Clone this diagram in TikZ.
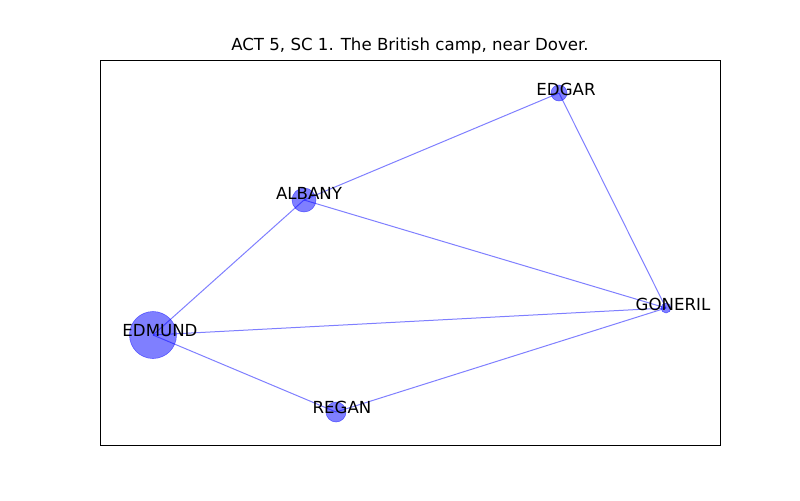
\documentclass[tikz,border=0pt]{standalone}
\usepackage{fontspec}
\setmainfont{DejaVu Sans}
\usetikzlibrary{backgrounds}
\begin{document}
\begin{tikzpicture}[x=0.01in,y=-0.01in]
    \tikzset{
        vertex/.style={circle, draw=blue, fill=blue, draw opacity=0.5, fill opacity=0.5, inner sep=0pt},
        arc/.style={draw=blue, draw opacity=0.5, line width=0.72pt},
        name label/.style={font=\fontsize{12}{14}\selectfont, inner sep=0pt}
    }
    \useasboundingbox (0,0) rectangle (800,500);
    \draw[line width=0.72pt] (100,60) rectangle (720,445);
    \node[name label] (title) at (410,46) {ACT 5, SC 1. The British camp, near Dover.};

    \node[vertex, minimum size=0.47in] (edmund) at (153,335) {};
    \node[vertex, minimum size=0.24in] (albany) at (304,200) {};
    \node[vertex, minimum size=0.16in] (edgar) at (559,93) {};
    \node[vertex, minimum size=0.10in] (goneril) at (666,308) {};
    \node[vertex, minimum size=0.20in] (regan) at (336,412) {};

    \begin{pgfonlayer}{background}
        \foreach \x/\y in {%
            edgar/albany, edgar/goneril, albany/goneril, albany/edmund,%
            edmund/goneril, edmund/regan, regan/goneril%
        }{
            \draw[arc] (\x.center) -- (\y.center);
        }
    \end{pgfonlayer}

    \node[name label] (edmund-l) at (160,331) {EDMUND};
    \node[name label] (albany-l) at (309,193) {ALBANY};
    \node[name label] (edgar-l) at (566,89) {EDGAR};
    \node[name label] (goneril-l) at (673,304) {GONERIL};
    \node[name label] (regan-l) at (342,407) {REGAN};
\end{tikzpicture}
\end{document}
